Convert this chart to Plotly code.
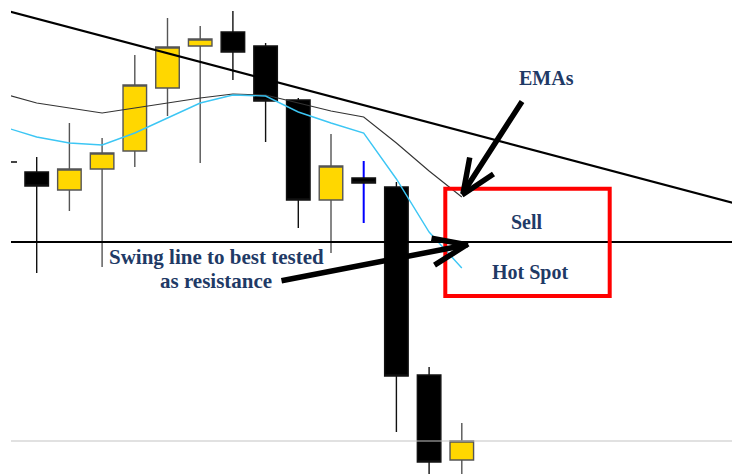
import plotly.graph_objects as go

# ---- data (prices) ----
bar_idx = list(range(1, 15))
open_ = [1.2302, 1.2284, 1.2305, 1.2323, 1.2386, 1.2428, 1.2442, 1.2428, 1.2374, 1.2274, 1.2296, 1.2287, 1.2099, 1.2014]
high = [1.2317, 1.2351, 1.2336, 1.2419, 1.2456, 1.2448, 1.2463, 1.2431, 1.2376, 1.2340, 1.2296, 1.2292, 1.2107, 1.2051]
low = [1.2201, 1.2263, 1.2207, 1.2307, 1.2358, 1.2311, 1.2394, 1.2332, 1.2246, 1.2221, 1.2291, 1.2042, 1.1990, 1.1990]
close = [1.2288, 1.2305, 1.2321, 1.2389, 1.2427, 1.2435, 1.2422, 1.2373, 1.2274, 1.2308, 1.2291, 1.2098, 1.2012, 1.2033]

# doji (blue wick) bar
doji_idx = [11]
doji_open = [1.2293]
doji_high = [1.2313]
doji_low = [1.2251]
doji_close = [1.2293]

ema_idx = list(range(0, 15))
ema_slow = [1.2380, 1.2371, 1.2366, 1.2361, 1.2366, 1.2371, 1.2376, 1.2380, 1.2379, 1.2371, 1.2363, 1.2357, 1.2331, 1.2303, 1.2277]
ema_fast = [1.2347, 1.2337, 1.2331, 1.2329, 1.2341, 1.2356, 1.2371, 1.2379, 1.2378, 1.2362, 1.2351, 1.2341, 1.2295, 1.2242, 1.2206]

trend_idx = [0, 23]
trend_price = [1.2464, 1.2265]
swing_idx = [0, 23]
swing_price = [1.2232, 1.2232]
last_idx = [0, 23]
last_price = [1.2033, 1.2033]
marker_tick = [1.2312]

W, H = 732, 474
L = 11            # x of plot-area left edge
R = 732
TOP = 0
BOT = 474


def dx(px):
    return (px - L) / (R - L)


def dy(py):
    return 1 - (py - TOP) / (BOT - TOP)


fig = go.Figure()

# blue wick of the doji (drawn first, body sits on top)
fig.add_trace(go.Candlestick(
    x=doji_idx, open=doji_open, high=doji_high, low=doji_low, close=doji_close,
    increasing=dict(line=dict(color="#0000ff", width=2), fillcolor="#0000ff"),
    decreasing=dict(line=dict(color="#0000ff", width=2), fillcolor="#0000ff"),
    whiskerwidth=0, showlegend=False, hoverinfo="skip"))

fig.add_trace(go.Candlestick(
    x=bar_idx, open=open_, high=high, low=low, close=close,
    increasing=dict(line=dict(color="#555555", width=1.4), fillcolor="#FFD700"),
    decreasing=dict(line=dict(color="#111111", width=1.4), fillcolor="#000000"),
    whiskerwidth=0, showlegend=False))

fig.add_trace(go.Scatter(x=ema_idx, y=ema_slow, mode="lines",
                         line=dict(color="#333333", width=1.1), showlegend=False))
fig.add_trace(go.Scatter(x=ema_idx, y=ema_fast, mode="lines",
                         line=dict(color="#3cc6f4", width=1.4), showlegend=False))
fig.add_trace(go.Scatter(x=trend_idx, y=trend_price, mode="lines",
                         line=dict(color="#000000", width=2.2), showlegend=False))
fig.add_trace(go.Scatter(x=swing_idx, y=swing_price, mode="lines",
                         line=dict(color="#000000", width=2), showlegend=False))
fig.add_trace(go.Scatter(x=last_idx, y=last_price, mode="lines",
                         line=dict(color="#c4c4c4", width=1.2), showlegend=False))

# red "hot spot" box
fig.add_shape(type="rect", xref="x domain", yref="y domain",
              x0=dx(445.3), x1=dx(609.7), y0=dy(296), y1=dy(188.7),
              line=dict(color="#ff0000", width=4), fillcolor="rgba(0,0,0,0)")

navy = "#1f3a66"


def label(text, px, py, size=20):
    fig.add_annotation(text=text, xref="x domain", yref="y domain",
                       x=dx(px), y=dy(py), showarrow=False,
                       font=dict(family="Liberation Serif", size=size, color=navy, weight="bold"),
                       xanchor="center", yanchor="middle")


label("EMAs", 546, 78)
label("Sell", 527, 222)
label("Hot Spot", 530, 272)
label("Swing line to best tested", 216, 257, 21)
label("as resistance", 216, 281, 21)


def seg(x0, y0, x1, y1, w=5.5):
    fig.add_annotation(text="", xref="x domain", yref="y domain",
                       axref="x domain", ayref="y domain",
                       x=dx(x1), y=dy(y1), ax=dx(x0), ay=dy(y0),
                       showarrow=True, arrowhead=0, arrowwidth=w,
                       arrowcolor="#000000", standoff=0, startstandoff=0)


# arrow to EMAs
seg(523, 100, 463, 193)
seg(470, 156, 463, 194)
seg(495, 173, 462, 195)
# arrow to swing line
seg(280, 281, 466, 245)
seg(430, 238, 468, 245)
seg(433, 266, 468, 244)

fig.update_layout(
    width=W, height=H,
    margin=dict(l=L, r=0, t=0, b=0),
    paper_bgcolor="white", plot_bgcolor="white",
    boxgap=0.28, boxgroupgap=0,
    showlegend=False,
    xaxis=dict(range=[0.214, 22.263], showgrid=False, zeroline=False,
               showline=False, showticklabels=False, ticks="",
               rangeslider=dict(visible=False), fixedrange=True),
    yaxis=dict(range=[1.2000, 1.2474], showgrid=False, zeroline=False,
               showline=False, showticklabels=False, ticks="inside",
               tickvals=marker_tick, ticklen=6, tickwidth=2,
               tickcolor="#444444", fixedrange=True),
)

fig.write_html(
    "out.html",
    config={"displayModeBar": False},
    post_script="document.body.style.margin='0';document.body.style.overflow='hidden';",
)
